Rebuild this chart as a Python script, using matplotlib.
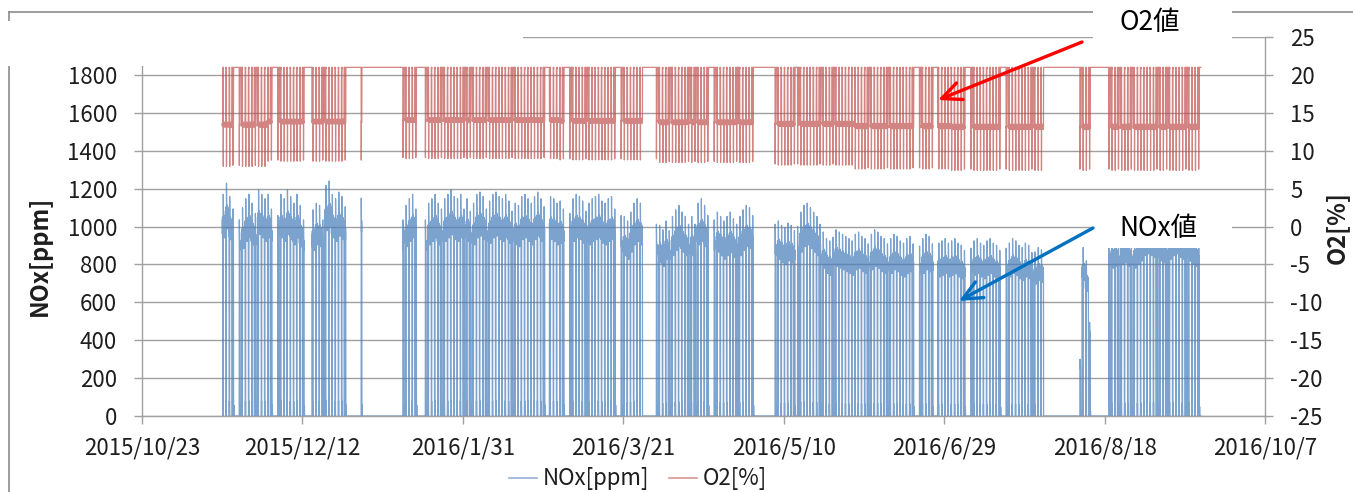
import datetime as dt

import numpy as np
import matplotlib
matplotlib.use("Agg")
import matplotlib.pyplot as plt
import matplotlib.dates as mdates
from matplotlib.patches import Rectangle, FancyArrowPatch
from matplotlib.lines import Line2D

plt.rcParams['font.family'] = ['Noto Sans CJK JP', 'DejaVu Sans']
plt.rcParams['axes.unicode_minus'] = False

# ---------------------------------------------------------------------------
# Operating record, one entry per day from 2015/11/17 to 2016/9/16
#   'O' = running all day with one short stop, 'S' = short run only, '.' = idle
# ---------------------------------------------------------------------------
first_day = dt.datetime(2015, 11, 17)

types_2015_11 = "OOOS.SOOOOSOOO"                      # 17th - 30th
types_2015_12 = "OS.SOOOOOOOS..OOOSOOOOOOS....S."
types_2016_01 = "...........SOOOS..SOOOOSOOOOOOS"
types_2016_02 = "OSOOOOSOOOOOOOSOOOOOOOOOS.OOO"
types_2016_03 = "OS.SOOOOSOOOOOOOOS.SOOOOOO....S"
types_2016_04 = "OOOSOOOOOSOSOOOS.SOOOOOOSOOOOS"
types_2016_05 = "......SOOOOOSSOOOOOOSOOOSOOOOOO"
types_2016_06 = "OOOOSOOOOOSOOOOOOOS.SOOOS.OOOO"
types_2016_07 = "OOOOS.SOOOOOOOOS.SOOOOOOOSOOO.."
types_2016_08 = ".........SOOS.....SOOSOOOSOOOOO"
types_2016_09 = "OOSOOSOOOOOSOOOS"                    # 1st - 16th

# NOx level while running [ppm], per day
nox_2015_11 = [1000, 1050, 990, 950, 0, 900, 940, 980, 1000, 960, 930, 1020, 1000, 980]
nox_2015_12 = [1000, 950, 0, 920, 1000, 980, 1020, 990, 960, 1000, 950, 900, 0, 0, 930, 960,
               950, 900, 1040, 1060, 1000, 980, 1010, 990, 960, 0, 0, 0, 0, 1000, 0]
nox_2016_01 = [0, 0, 0, 0, 0, 0, 0, 0, 0, 0, 0, 900, 950, 980, 1000, 950, 0, 0, 900, 960,
               980, 1000, 960, 950, 980, 1000, 1020, 990, 980, 1000, 950]
nox_2016_02 = [980, 940, 960, 1000, 1010, 990, 950, 970, 1000, 1010, 990, 980, 1000, 970, 940,
               960, 950, 990, 1000, 980, 960, 990, 1010, 980, 960, 0, 990, 980, 960]
nox_2016_03 = [970, 950, 0, 930, 980, 1000, 990, 970, 940, 960, 980, 990, 1000, 970, 960, 980,
               990, 950, 0, 920, 900, 880, 920, 960, 980, 960, 0, 0, 0, 0, 880]
nox_2016_04 = [860, 840, 880, 850, 900, 930, 950, 920, 900, 880, 900, 880, 960, 980, 950, 920,
               0, 900, 920, 900, 880, 900, 920, 890, 880, 900, 930, 950, 940, 920]
nox_2016_05 = [0, 0, 0, 0, 0, 0, 880, 880, 860, 850, 870, 860, 850, 870, 920, 950, 960, 940,
               920, 900, 880, 830, 800, 790, 820, 840, 830, 820, 810, 800, 790]
nox_2016_06 = [820, 830, 810, 800, 790, 820, 840, 830, 810, 800, 790, 800, 820, 810, 790, 780,
               800, 810, 790, 0, 780, 800, 820, 810, 790, 0, 780, 790, 800, 780]
nox_2016_07 = [790, 800, 780, 770, 760, 0, 770, 790, 800, 780, 770, 790, 800, 780, 770, 760,
               0, 770, 780, 800, 790, 770, 760, 780, 770, 750, 740, 760, 750, 0, 0]
nox_2016_08 = [0, 0, 0, 0, 0, 0, 0, 0, 0, 260, 760, 700, 430, 0, 0, 0, 0, 0, 820, 830, 840,
               820, 850, 860, 840, 820, 830, 850, 870, 900, 910]
nox_2016_09 = [900, 890, 880, 870, 860, 850, 880, 900, 910, 890, 880, 860, 870, 850, 840, 820]

# O2 while running [%], per month (Nov 2015 ... Sep 2016)
o2_running = [13.4, 13.8, 14.0, 14.0, 13.9, 13.7, 13.5, 13.2, 13.1, 13.1, 13.1]
o2_air = 21.0

# Typical hourly shape of a running day (multiplier of the day's NOx level) and
# the matching O2 shape (0 = running level, 1 = air, negative = start-up dip)
nox_shape_run = [1.03, 0.96, 1.05, 0.98, 0.12, 0.00, 0.08, 0.00, 1.17, 1.06, 0.97, 1.04,
                 0.95, 1.02, 1.06, 0.97, 1.01, 0.94, 1.05, 0.99, 1.03, 0.96, 1.04, 0.99]
o2_shape_run = [0.00, 0.03, -0.02, 0.04, 0.90, 1.00, 0.97, 1.00, -0.72, 0.05, 0.00, -0.03,
                0.04, 0.00, -0.02, 0.03, 0.00, 0.05, -0.03, 0.02, 0.00, -0.04, 0.03, 0.00]
nox_shape_short = [0, 0, 0, 0, 0, 0, 0, 0, 1.15, 1.00, 0.97, 1.03,
                   0.98, 0.10, 0.00, 0.06, 0, 0, 0, 0, 0, 0, 0, 0]
o2_shape_short = [1, 1, 1, 1, 1, 1, 1, 1, -0.70, 0.02, 0.00, -0.02,
                  0.03, 0.90, 1, 1, 1, 1, 1, 1, 1, 1, 1, 1]

x_tick_labels = ['2015/10/23', '2015/12/12', '2016/1/31', '2016/3/21',
                 '2016/5/10', '2016/6/29', '2016/8/18', '2016/10/7']

# ---------------------------------------------------------------------------
# Build the hourly series
# ---------------------------------------------------------------------------
month_types = [types_2015_11, types_2015_12, types_2016_01, types_2016_02, types_2016_03,
               types_2016_04, types_2016_05, types_2016_06, types_2016_07, types_2016_08,
               types_2016_09]
month_nox = [nox_2015_11, nox_2015_12, nox_2016_01, nox_2016_02, nox_2016_03, nox_2016_04,
             nox_2016_05, nox_2016_06, nox_2016_07, nox_2016_08, nox_2016_09]

day_type = "".join(month_types)
day_nox = np.concatenate([np.asarray(m, float) for m in month_nox])
day_o2 = np.concatenate([[lv] * len(t) for lv, t in zip(o2_running, month_types)])

t0 = mdates.date2num(first_day)
times, nox, o2 = [], [], []
for i, (kind, lv, ov) in enumerate(zip(day_type, day_nox, day_o2)):
    for h in range(24):
        times.append(t0 + i + h / 24.0)
        if kind == 'O':
            nox.append(lv * nox_shape_run[h])
            o2.append(ov + o2_shape_run[h] * (o2_air - ov))
        elif kind == 'S':
            nox.append(lv * nox_shape_short[h])
            o2.append(ov + o2_shape_short[h] * (o2_air - ov))
        else:
            nox.append(0.0)
            o2.append(o2_air)

# ---------------------------------------------------------------------------
# Figure
# ---------------------------------------------------------------------------
W, H = 1353, 492
fig = plt.figure(figsize=(W / 100, H / 100), dpi=100)


def fpt(x, y):
    return (x / W, 1 - y / H)


ax = fig.add_axes([142 / W, 1 - 416 / H, (1265 - 142) / W, (416 - 37) / H])
ax2 = ax.twinx()

nox_color = '#4A7EBB'
o2_color = '#C0504D'
axis_color = '#A0A0A0'
text_color = '#1E1E1E'

ax.plot(times, nox, color=nox_color, lw=0.9, alpha=0.72)
ax2.plot(times, o2, color=o2_color, lw=0.9, alpha=0.7)

tick_dates = [mdates.date2num(dt.datetime.strptime(s, '%Y/%m/%d')) for s in x_tick_labels]
ax.set_xlim(tick_dates[0], tick_dates[-1])
ax.set_xticks(tick_dates)
ax.set_xticklabels(x_tick_labels)

ax.set_ylim(0, 2000)
ax.set_yticks(np.arange(0, 2001, 200))
ax2.set_ylim(-25, 25)
ax2.set_yticks(np.arange(-25, 26, 5))

ax.yaxis.grid(True, color=axis_color, lw=1.0)
ax.set_axisbelow(True)

for a in (ax, ax2):
    a.spines['top'].set_visible(False)
    for s in a.spines.values():
        s.set_color(axis_color)
        s.set_linewidth(1.0)
ax.spines['right'].set_visible(False)
ax2.spines['left'].set_visible(False)
ax2.spines['bottom'].set_visible(False)

ax.tick_params(axis='x', direction='out', length=6, width=1, color=axis_color,
               pad=9, labelsize=16, labelcolor=text_color)
ax.tick_params(axis='y', direction='out', length=6, width=1, color=axis_color,
               pad=12, labelsize=16, labelcolor=text_color)
ax2.tick_params(axis='y', direction='out', length=6, width=1, color=axis_color,
                pad=12, labelsize=16, labelcolor=text_color)

# axis titles
fig.text(*fpt(40, 256), 'NOx[ppm]', rotation=90, ha='center', va='center',
         fontsize=17, fontweight='bold', color=text_color)
fig.text(*fpt(1337, 228), 'O2[%]', rotation=90, ha='center', va='center',
         fontsize=17, fontweight='bold', color=text_color)

# legend
h_nox = Line2D([], [], color=nox_color, lw=1.2, alpha=0.6)
h_o2 = Line2D([], [], color=o2_color, lw=1.2, alpha=0.6)
fig.legend([h_nox, h_o2], ['NOx[ppm]', 'O2[%]'], loc='center',
           bbox_to_anchor=fpt(638, 479), ncol=2, frameon=False, fontsize=16,
           handlelength=1.25, handletextpad=0.25, columnspacing=0.9,
           borderaxespad=0, borderpad=0, labelcolor=text_color)

# chart-area border
border_color = '#8C8C8C'
fig.add_artist(Line2D([9 / W, 9 / W], [1 - 12 / H, 0], color=border_color, lw=1.2, zorder=5))
fig.add_artist(Line2D([9 / W, 1], [1 - 12 / H, 1 - 12 / H], color=border_color, lw=1.2, zorder=5))


def white_box(x0, y0, x1, y1):
    fig.add_artist(Rectangle((x0 / W, 1 - y1 / H), (x1 - x0) / W, (y1 - y0) / H,
                             transform=fig.transFigure, facecolor='white',
                             edgecolor='none', zorder=10))


# title placeholder area and the two callout boxes
white_box(7, 21, 523, 66)
white_box(1093, 0, 1232, 50)
white_box(1093, 205, 1232, 248)

fig.text(*fpt(1150, 22), 'O2値', ha='center', va='center', fontsize=19,
         color='black', zorder=11)
fig.text(*fpt(1158, 228), 'NOx値', ha='center', va='center', fontsize=19,
         color='black', zorder=11)

style = '->,head_length=0.7,head_width=0.32'
fig.add_artist(FancyArrowPatch(fpt(1082, 42), fpt(938, 100), transform=fig.transFigure,
                               arrowstyle=style, mutation_scale=20, lw=2.4,
                               color='#FF0000', shrinkA=0, shrinkB=0, zorder=12))
fig.add_artist(FancyArrowPatch(fpt(1093, 228), fpt(959, 301), transform=fig.transFigure,
                               arrowstyle=style, mutation_scale=20, lw=2.4,
                               color='#0070C0', shrinkA=0, shrinkB=0, zorder=12))

fig.savefig('out.png', dpi=100)
